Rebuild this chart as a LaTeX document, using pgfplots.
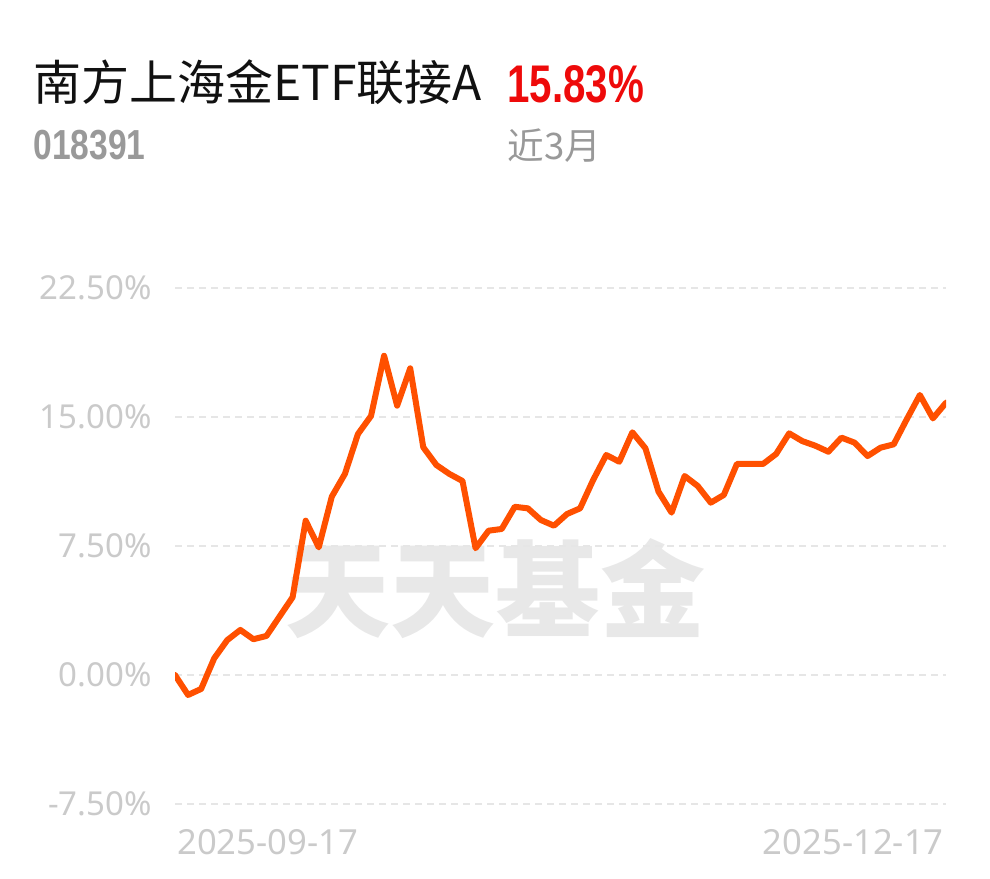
\documentclass[border=0pt]{standalone}
\usepackage{pgfplots}
\pgfplotsset{compat=1.18}
\usepackage{pgfplotstable}
\usepackage{fontspec}
\setmainfont{Noto Sans}
\newfontfamily\cjk{Noto Sans CJK SC}
\newfontfamily\numf{Liberation Sans}
\definecolor{linec}{HTML}{FF5000}
\definecolor{redc}{HTML}{EE0A0A}
\definecolor{labelgray}{HTML}{CACACA}
\definecolor{gridgray}{HTML}{E6E6E6}
\definecolor{codegray}{HTML}{999999}
\definecolor{wmgray}{HTML}{E8E8E8}
\definecolor{titlec}{HTML}{111111}
\pgfplotstableread{
i v
0 0.00
1 -1.16
2 -0.81
3 0.97
4 2.03
5 2.62
6 2.08
7 2.27
8 3.40
9 4.52
10 8.97
11 7.42
12 10.37
13 11.69
14 14.01
15 15.06
16 18.56
17 15.66
18 17.83
19 13.24
20 12.21
21 11.69
22 11.28
23 7.37
24 8.39
25 8.49
26 9.78
27 9.69
28 9.01
29 8.68
30 9.36
31 9.69
32 11.34
33 12.79
34 12.40
35 14.11
36 13.18
37 10.66
38 9.44
39 11.57
40 10.99
41 10.02
42 10.47
43 12.27
44 12.27
45 12.27
46 12.85
47 14.05
48 13.60
49 13.33
50 12.98
51 13.80
52 13.51
53 12.73
54 13.22
55 13.41
56 14.87
57 16.28
58 14.92
59 15.83
}\navtable
\begin{document}
\begin{tikzpicture}[x=0.5pt,y=0.5pt]
\path[use as bounding box] (0,0) rectangle (990,878);
% watermark
\node[inner sep=0pt, text=wmgray, font=\cjk\bfseries\fontsize{52.5}{52.5}\selectfont] at (495,289) {天天基金};
\begin{axis}[
  at={(87.5pt,37pt)}, anchor=south west,
  scale only axis, width=385.5pt, height=258pt,
  xmin=0, xmax=59, ymin=-7.5, ymax=22.5,
  axis line style={draw=none},
  xtick=\empty,
  ytick={-7.5,0,7.5,15,22.5},
  yticklabels={-7.50\%,0.00\%,7.50\%,15.00\%,22.50\%},
  major tick length=0pt,
  tick style={draw=none},
  ymajorgrids,
  major grid style={draw=gridgray, line width=1pt, dash pattern=on 3.5pt off 2.5pt},
  yticklabel style={font=\fontsize{16.5}{16.5}\selectfont, text=labelgray, inner sep=0pt, anchor=east},
  yticklabel shift=11.5pt,
]
\addplot[linec, line width=3pt, line join=round, line cap=round, mark=none] table[x=i,y=v] {\navtable};
\end{axis}
% x labels
\node[anchor=base west, inner sep=0pt, text=labelgray, font=\fontsize{17.3}{17.3}\selectfont] at (177,24) {2025-09-17};
\node[anchor=base east, inner sep=0pt, text=labelgray, font=\fontsize{17.3}{17.3}\selectfont] at (944,24) {2025-12-17};
% title
\node[anchor=base west, inner sep=0pt, text=titlec, font=\cjk\fontsize{24}{24}\selectfont] at (33,777) {南方上海金ETF联接A};
\node[anchor=base west, inner sep=0pt, text=redc, font=\numf\bfseries\fontsize{26.5}{26.5}\selectfont] at (507,775) {\scalebox{0.76}[1]{15.83\%}};
\node[anchor=base west, inner sep=0pt, text=codegray, font=\numf\bfseries\fontsize{21}{21}\selectfont] at (33,718) {\scalebox{0.8}[1]{018391}};
\node[anchor=base west, inner sep=0pt, text=codegray, font=\cjk\fontsize{18.3}{18.3}\selectfont] at (507,718) {近3月};
\end{tikzpicture}
\end{document}
